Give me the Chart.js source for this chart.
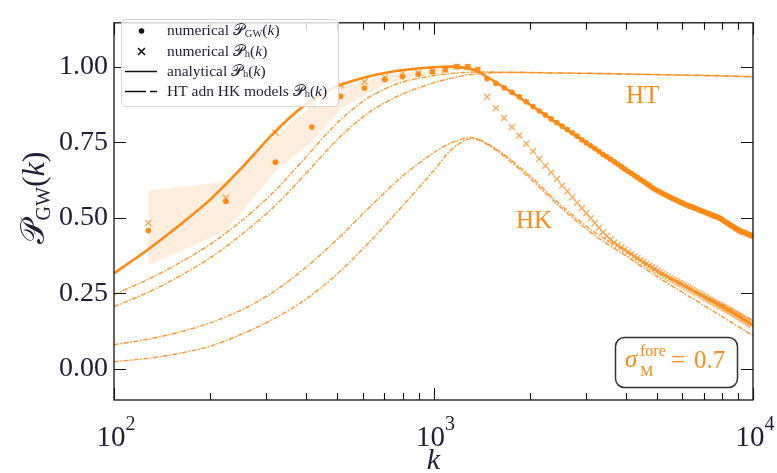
<!DOCTYPE html>
<html>
<head>
<meta charset="utf-8">
<script src="https://cdn.jsdelivr.net/npm/chart.js@4.4.1/dist/chart.umd.min.js"></script>
<style>
  html, body { margin: 0; padding: 0; background: #ffffff; }
  #wrap { width: 777px; height: 473px; position: relative; }
</style>
</head>
<body>
<div id="wrap"><canvas id="c" width="777" height="473"></canvas></div>
<script>
// ---- numerical samples (k grid of the simulation) ----
const kNum = [128,224,320,416,512,608,704,800,896,992,1088,1184,1280,1376,1472,1568,1664,1760,1856,1952,
  2048,2144,2240,2336,2432,2528,2624,2720,2816,2912,3008,3104,3200,3296,3392,3488,3584,3680,3776,3872,
  3968,4064,4160,4256,4352,4448,4544,4640,4736,4832,4928,5024,5120,5216,5312,5408,5504,5600,5696,5792,
  5888,5984,6080,6176,6272,6368,6464,6560,6656,6752,6848,6944,7040,7136,7232,7328,7424,7520,7616,7712,
  7808,7904,8000,8096,8192,8288,8384,8480,8576,8672,8768,8864,8960,9056,9152,9248,9344,9440,9536,9632,
  9728,9824,9920];

// numerical P_GW(k)
const numGW = [0.458,0.554,0.684,0.800,0.902,0.929,0.957,0.967,0.975,0.983,0.990,1.000,1.000,0.990,
  0.960,0.945,0.930,0.915,0.900,0.884,0.868,0.853,0.840,0.827,0.815,0.803,0.792,0.781,0.770,0.758,
  0.748,0.738,0.729,0.720,0.710,0.702,0.693,0.685,0.677,0.669,0.661,0.654,0.647,0.640,0.633,0.626,
  0.620,0.613,0.607,0.600,0.594,0.589,0.585,0.580,0.576,0.572,0.568,0.564,0.560,0.557,0.553,0.550,
  0.546,0.543,0.540,0.537,0.535,0.532,0.530,0.527,0.524,0.522,0.519,0.517,0.514,0.512,0.509,0.507,
  0.505,0.503,0.500,0.498,0.494,0.490,0.487,0.483,0.480,0.476,0.473,0.470,0.467,0.463,0.460,0.457,
  0.455,0.453,0.452,0.450,0.448,0.446,0.444,0.443,0.440];

// numerical P_h(k)
const numH = [0.483,0.566,0.781,0.875,0.940,0.950,0.965,0.977,0.980,0.985,0.990,1.000,0.998,0.990,
  0.900,0.862,0.830,0.800,0.772,0.745,0.720,0.695,0.672,0.650,0.628,0.607,0.588,0.568,0.550,0.532,
  0.515,0.498,0.483,0.467,0.452,0.440,0.428,0.418,0.410,0.402,0.394,0.387,0.380,0.373,0.367,0.360,
  0.354,0.348,0.342,0.336,0.331,0.325,0.320,0.315,0.310,0.305,0.300,0.296,0.292,0.288,0.284,0.280,
  0.276,0.272,0.268,0.264,0.260,0.256,0.252,0.249,0.245,0.242,0.238,0.235,0.231,0.228,0.225,0.221,
  0.218,0.215,0.212,0.209,0.206,0.203,0.200,0.197,0.194,0.191,0.188,0.185,0.182,0.179,0.176,0.173,
  0.170,0.167,0.164,0.161,0.158,0.155,0.152,0.149,0.146];

// spread of the numerical P_GW on the rising side
const bandK  = [128,224,320,416,512,608,704,800,896,992,1088,1184,1280,1376];
const bandHi = [0.590,0.620,0.775,0.870,0.935,0.955,0.970,0.980,0.985,0.990,0.995,1.000,1.000,0.995];
const bandLo = [0.343,0.455,0.655,0.750,0.860,0.905,0.940,0.955,0.965,0.975,0.985,0.990,0.990,0.985];

// ---- model curves ----
const lineK = [100,126,158,200,251,316,398,501,631,794,1000,1150,1330,1585,1995,2512,3162,3981,5012,6310,7943,10000];
const anaH  = [0.316,0.390,0.470,0.560,0.665,0.780,0.875,0.935,0.968,0.988,0.998,1.000,0.990,0.945,0.876,0.804,0.730,0.658,0.590,0.537,0.494,0.440];
const htA   = [0.246,0.293,0.347,0.412,0.490,0.585,0.700,0.815,0.900,0.948,0.970,0.978,0.982,0.982,0.981,0.979,0.978,0.976,0.974,0.972,0.970,0.967];
const htB   = [0.206,0.250,0.303,0.367,0.445,0.535,0.645,0.760,0.850,0.908,0.946,0.963,0.975,0.980,0.980,0.978,0.977,0.975,0.973,0.971,0.969,0.966];
const hkA   = [0.080,0.097,0.120,0.152,0.195,0.255,0.335,0.430,0.535,0.635,0.715,0.750,0.765,0.725,0.640,0.540,0.455,0.390,0.320,0.265,0.215,0.160];
const hkB   = [0.024,0.034,0.050,0.075,0.115,0.165,0.230,0.315,0.420,0.535,0.655,0.730,0.762,0.720,0.632,0.532,0.445,0.375,0.305,0.240,0.175,0.110];

// ---- axes ----
const xMajor = [100, 1000, 10000];
const xMinor = [200,300,400,500,600,700,800,900,2000,3000,4000,5000,6000,7000,8000,9000];
const xTickText = [['10','2'],['10','3'],['10','4']];
const yMajor = [0, 0.25, 0.5, 0.75, 1.0];

const ORANGE = '#ff8a14';
const INK = '#1e1e38';
const SERIF = "'Liberation Serif','DejaVu Serif','DejaVu Sans',serif";
const F = (size, italic) => (italic ? 'italic ' : '') + size + 'px ' + SERIF;
const pts = (xs, ys) => xs.map((x, i) => ({ x: x, y: ys[i] }));

function rich(ctx, parts, x, y, align) {
  let w = 0;
  for (const p of parts) { ctx.font = p.f; p.w = ctx.measureText(p.t).width; w += p.w; }
  let cx = align === 'center' ? x - w / 2 : x;
  for (const p of parts) { ctx.font = p.f; ctx.fillText(p.t, cx, y + (p.dy || 0)); cx += p.w; }
}

const dashModel = [5, 1.6, 1.6, 1.6];

function modelLine(data) {
  return {
    data: data, showLine: true, borderColor: 'rgba(255,138,20,0.9)', borderWidth: 1.4,
    borderDash: dashModel, pointRadius: 0, fill: false, tension: 0.3
  };
}

const decorations = {
  id: 'decorations',
  afterDatasetsDraw(chart) {
    const ctx = chart.ctx;
    const a = chart.chartArea;
    const xs = chart.scales.x, ys = chart.scales.y;
    ctx.save();

    // frame
    ctx.strokeStyle = '#111';
    ctx.lineWidth = 1.3;
    ctx.strokeRect(a.left, a.top, a.right - a.left, a.bottom - a.top);

    // inward ticks on all four sides
    ctx.lineWidth = 1.1;
    ctx.beginPath();
    for (const v of yMajor) {
      const py = Math.round(ys.getPixelForValue(v)) + 0.5;
      ctx.moveTo(a.left, py); ctx.lineTo(a.left + 12, py);
      ctx.moveTo(a.right, py); ctx.lineTo(a.right - 12, py);
    }
    for (const v of xMajor) {
      const px = Math.round(xs.getPixelForValue(v)) + 0.5;
      ctx.moveTo(px, a.bottom); ctx.lineTo(px, a.bottom - 12);
      ctx.moveTo(px, a.top); ctx.lineTo(px, a.top + 12);
    }
    for (const v of xMinor) {
      const px = Math.round(xs.getPixelForValue(v)) + 0.5;
      ctx.moveTo(px, a.bottom); ctx.lineTo(px, a.bottom - 7);
      ctx.moveTo(px, a.top); ctx.lineTo(px, a.top + 7);
    }
    ctx.stroke();

    // x tick labels 10^n
    ctx.fillStyle = INK;
    ctx.textBaseline = 'alphabetic';
    xMajor.forEach((v, i) => {
      const px = xs.getPixelForValue(v);
      rich(ctx, [{ t: xTickText[i][0], f: F(29) }, { t: xTickText[i][1], f: F(20), dy: -16 }], px + 2, a.bottom + 46, 'center');
    });

    // x title
    rich(ctx, [{ t: 'k', f: F(30, true) }], (a.left + a.right) / 2, a.bottom + 69, 'center');

    // y title
    ctx.save();
    ctx.translate(44, 198);
    ctx.rotate(-Math.PI / 2);
    rich(ctx, [{ t: '𝒫', f: F(33) }, { t: 'GW', f: F(20), dy: 6 }, { t: '(', f: F(32) }, { t: 'k', f: F(32, true) }, { t: ')', f: F(32) }], 0, 0, 'center');
    ctx.restore();

    // legend
    const L = { x: 121.5, y: 19.5, w: 217, h: 87 };
    ctx.beginPath();
    ctx.roundRect(L.x, L.y, L.w, L.h, 4);
    ctx.fillStyle = 'rgba(255,255,255,0.82)';
    ctx.fill();
    ctx.strokeStyle = '#d6d6d6';
    ctx.lineWidth = 1;
    ctx.stroke();

    const rows = [31, 51.5, 71.5, 91.5];
    ctx.fillStyle = '#111';
    ctx.strokeStyle = '#111';
    ctx.beginPath(); ctx.arc(141.5, rows[0], 2.8, 0, Math.PI * 2); ctx.fill();
    ctx.lineWidth = 1.6;
    ctx.beginPath();
    ctx.moveTo(138, rows[1] - 3.5); ctx.lineTo(145, rows[1] + 3.5);
    ctx.moveTo(145, rows[1] - 3.5); ctx.lineTo(138, rows[1] + 3.5);
    ctx.stroke();
    ctx.lineWidth = 1.5;
    ctx.beginPath(); ctx.moveTo(125, rows[2]); ctx.lineTo(157, rows[2]); ctx.stroke();
    ctx.beginPath();
    ctx.moveTo(125, rows[3]); ctx.lineTo(146, rows[3]);
    ctx.moveTo(150, rows[3]); ctx.lineTo(157, rows[3]);
    ctx.stroke();

    ctx.fillStyle = INK;
    ctx.textBaseline = 'middle';
    const s = 15.5, ss = 10.5;
    const P = (sub) => [{ t: '𝒫', f: F(s) }, { t: sub, f: F(ss), dy: 3 }, { t: '(', f: F(s) }, { t: 'k', f: F(s, true) }, { t: ')', f: F(s) }];
    rich(ctx, [{ t: 'numerical ', f: F(s) }].concat(P('GW')), 167, rows[0]);
    rich(ctx, [{ t: 'numerical ', f: F(s) }].concat(P('h')), 167, rows[1]);
    rich(ctx, [{ t: 'analytical ', f: F(s) }].concat(P('h')), 167, rows[2]);
    rich(ctx, [{ t: 'HT adn HK models ', f: F(s) }].concat(P('h')), 167, rows[3]);

    // curve labels
    ctx.textBaseline = 'alphabetic';
    ctx.fillStyle = ORANGE;
    rich(ctx, [{ t: 'HT', f: F(25) }], 626, 103);
    rich(ctx, [{ t: 'HK', f: F(25) }], 516, 228);

    // parameter box
    ctx.beginPath();
    ctx.roundRect(615.5, 337.5, 122, 50, 9);
    ctx.fillStyle = '#ffffff';
    ctx.fill();
    ctx.strokeStyle = '#333';
    ctx.lineWidth = 1.5;
    ctx.stroke();
    ctx.fillStyle = ORANGE;
    rich(ctx, [{ t: 'σ', f: F(25, true) }], 625, 367);
    rich(ctx, [{ t: 'fore', f: F(16) }], 640, 356);
    rich(ctx, [{ t: 'M', f: F(15) }], 640, 376);
    rich(ctx, [{ t: '=', f: F(25) }], 671, 368);
    rich(ctx, [{ t: '0.7', f: F(25) }], 694, 368);

    ctx.restore();
  }
};

new Chart(document.getElementById('c'), {
  type: 'line',
  data: {
    datasets: [
      { // numerical P_GW
        data: pts(kNum, numGW), showLine: false, pointStyle: 'circle', pointRadius: 2.8,
        pointBackgroundColor: ORANGE, pointBorderWidth: 0, borderColor: ORANGE
      },
      { // numerical P_h
        data: pts(kNum, numH), showLine: false, pointStyle: 'crossRot', pointRadius: 4.3,
        pointBorderColor: 'rgba(255,138,20,0.75)', pointBorderWidth: 1.3, borderColor: ORANGE
      },
      { // analytical P_h
        data: pts(lineK, anaH), showLine: true, borderColor: ORANGE, borderWidth: 2.6,
        pointRadius: 0, fill: false, tension: 0.3
      },
      modelLine(pts(lineK, htA)),
      modelLine(pts(lineK, htB)),
      modelLine(pts(lineK, hkA)),
      modelLine(pts(lineK, hkB)),
      { // spread band, upper edge filled down to the lower edge
        data: pts(bandK, bandHi), showLine: true, borderWidth: 0, borderColor: 'rgba(0,0,0,0)',
        pointRadius: 0, fill: '+1', backgroundColor: 'rgba(255,138,20,0.14)'
      },
      {
        data: pts(bandK, bandLo), showLine: true, borderWidth: 0, borderColor: 'rgba(0,0,0,0)',
        pointRadius: 0, fill: false
      }
    ]
  },
  options: {
    responsive: false,
    animation: false,
    devicePixelRatio: 1,
    layout: { padding: { left: 0, right: 24, top: 13, bottom: 0 } },
    plugins: { legend: { display: false }, tooltip: { enabled: false } },
    scales: {
      x: {
        type: 'logarithmic', min: 100, max: 10000,
        grid: { display: false, drawTicks: false },
        border: { display: false },
        ticks: { display: false },
        afterBuildTicks: (s) => { s.ticks = xMajor.map(v => ({ value: v })); },
        afterFit: (s) => { s.height = 73; }
      },
      y: {
        type: 'linear', min: -0.103, max: 1.145,
        grid: { display: false, drawTicks: false },
        border: { display: false },
        ticks: {
          color: INK, padding: 6,
          font: { family: SERIF, size: 28 },
          callback: (v) => v.toFixed(2)
        },
        afterBuildTicks: (s) => { s.ticks = yMajor.map(v => ({ value: v })); },
        afterFit: (s) => { s.width = 114; }
      }
    }
  },
  plugins: [decorations]
});
</script>
</body>
</html>
